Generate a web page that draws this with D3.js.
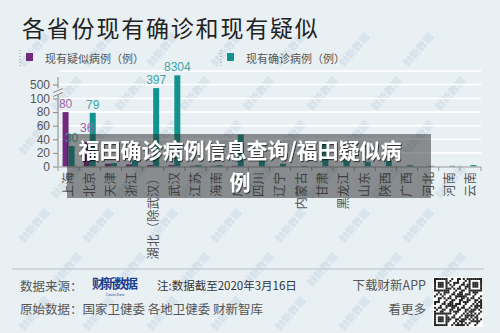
<!DOCTYPE html>
<html><head><meta charset="utf-8">
<script src="https://cdn.jsdelivr.net/npm/d3@7"></script>
<style>
html,body{margin:0;padding:0;background:#e9f0f4;}
svg{display:block;font-family:"Noto Sans CJK SC","Noto Sans",sans-serif;}
</style></head><body>
<svg id="chart" width="500" height="333"></svg>
<script>
// 数据 (截至2020年3月16日)
var provinces = ["上海","北京","天津","浙江","湖北（除武汉）","武汉","江苏","海南","广东","四川",
	"辽宁","内蒙古","甘肃","黑龙江","山东","陕西","广西","河北","河南","云南"];
var suspected = [80,36,4,3,2,2,1,1,1,0,0,0,0,0,0,0,0,0,0,0];
var confirmed = [30,79,5,9,397,8304,2,2,47,10,4,1,38,11,7,9,2,1,1,2];
var yTicks = [0,20,40,60,80,100,500];
var labelSuspected = ["上海","北京"];
var labelConfirmed = ["上海","北京","湖北（除武汉）","武汉"];

var PURPLE = "#72287f", TEAL = "#13938f";
var NUMFONT = "'Liberation Sans', Arial, sans-serif";
var svg = d3.select("#chart");

// sombra del texto del banner
svg.append("defs").append("filter").attr("id", "shadow")
	.append("feDropShadow").attr("dx", 1).attr("dy", 1.2).attr("stdDeviation", 0.6)
	.attr("flood-color", "#000").attr("flood-opacity", 0.6);

// marca de agua en rejilla
var wm = svg.append("g");
for (var j = 0; j < 8; j++) {
	for (var i = 0; i < 9; i++) {
		var wx = 5 + i * 64 + (j % 2) * 32, wy = 8 + j * 44;
		if (wx < 16 || wx > 484 || wy < 16 || wy > 318) continue;
		wm.append("text").attr("transform", "translate(" + wx + "," + wy + ") rotate(-50)")
			.attr("font-size", 10).attr("font-weight", "bold").attr("fill", "#d3e0e9")
			.attr("text-anchor", "middle").text("财新数据");
	}
}

// titulo
svg.append("text").attr("x", 22).attr("y", 37).attr("font-size", 23)
	.attr("letter-spacing", 1.8).attr("fill", "#222").text("各省份现有确诊和现有疑似");

// leyenda
var legend = [{x: 20, c: PURPLE, t: "现有疑似病例（例）"}, {x: 221, c: TEAL, t: "现有确诊病例（例）"}];
legend.forEach(function(l) {
	svg.append("line").attr("x1", l.x).attr("x2", l.x).attr("y1", 50).attr("y2", 67)
		.attr("stroke", "#999").attr("stroke-dasharray", "1,2");
	svg.append("rect").attr("x", l.x + 6).attr("y", 53).attr("width", 7).attr("height", 8).attr("fill", l.c);
	svg.append("text").attr("x", l.x + 25).attr("y", 63).attr("font-size", 11)
		.attr("fill", "#555").text(l.t);
});

// escalas: eje cortado entre 100 y 500
var x = d3.scaleBand().domain(provinces).range([58, 481]);
var y = d3.scaleLinear().domain([0, 100, 500, 12000]).range([166.5, 98.5, 84.5, 71]);
var bw = 6;

// rejilla
svg.append("g").selectAll("line").data(yTicks.slice(1).concat([12000])).enter().append("line")
	.attr("x1", 60).attr("x2", 481).attr("y1", function(d) { return y(d); })
	.attr("y2", function(d) { return y(d); }).attr("stroke", "#fff").attr("stroke-width", 1.6);

// eje y
var yAxis = svg.append("g").attr("transform", "translate(58,0)")
	.call(d3.axisLeft(y).tickValues(yTicks).tickSize(5).tickPadding(3));
yAxis.select(".domain").remove();
yAxis.selectAll("line").attr("stroke", "#888");
yAxis.selectAll("text").attr("font-size", 12).attr("fill", "#555").attr("font-family", NUMFONT);
svg.append("path").attr("d", "M58,166.5V94.5M58,88.5V77").attr("stroke", "#888").attr("fill", "none");
svg.append("path").attr("d", "M53,92.5L63,88.5M53,96.5L63,92.5").attr("stroke", "#888").attr("fill", "none");

// barras
var bars = svg.append("g");
bars.selectAll(".sus").data(provinces).enter().append("rect").attr("class", "sus")
	.attr("x", function(d) { return x(d) + x.bandwidth() / 2 - bw; })
	.attr("y", function(d, i) { return y(suspected[i]); })
	.attr("width", bw).attr("height", function(d, i) { return y(0) - y(suspected[i]); })
	.attr("fill", PURPLE);
bars.selectAll(".conf").data(provinces).enter().append("rect").attr("class", "conf")
	.attr("x", function(d) { return x(d) + x.bandwidth() / 2; })
	.attr("y", function(d, i) { return y(confirmed[i]); })
	.attr("width", bw).attr("height", function(d, i) { return y(0) - y(confirmed[i]); })
	.attr("fill", TEAL);

// etiquetas de valores ("36" va mas arriba para no pisar "30")
labelSuspected.forEach(function(p) {
	var v = suspected[provinces.indexOf(p)];
	var lift = p === "北京" ? 10 : 4;
	svg.append("text").attr("x", x(p) + x.bandwidth() / 2 - bw / 2).attr("y", y(v) - lift)
		.attr("text-anchor", "middle").attr("font-size", 12).attr("font-family", NUMFONT)
		.attr("fill", "#9a67a8").text(v);
});
labelConfirmed.forEach(function(p) {
	var v = confirmed[provinces.indexOf(p)];
	svg.append("text").attr("x", x(p) + x.bandwidth() / 2 + bw / 2).attr("y", y(v) - 4)
		.attr("text-anchor", "middle").attr("font-size", 12).attr("font-family", NUMFONT)
		.attr("fill", "#3ca7a4").text(v);
});

// eje x
svg.append("line").attr("x1", 58).attr("x2", 481).attr("y1", 167).attr("y2", 167)
	.attr("stroke", "#999");
svg.append("g").selectAll("line").data(d3.range(provinces.length + 1)).enter().append("line")
	.attr("x1", function(k) { return 58 + k * x.step(); }).attr("x2", function(k) { return 58 + k * x.step(); })
	.attr("y1", 167).attr("y2", 171).attr("stroke", "#999");
svg.append("g").selectAll("text").data(provinces).enter().append("text")
	.attr("transform", function(d) { return "translate(" + (x(d) + x.bandwidth() / 2) + ",172) rotate(-90)"; })
	.attr("text-anchor", "end").attr("dy", "0.35em").attr("font-size", 12.5).attr("fill", "#555")
	.text(function(d) { return d; });

// banner superpuesto
svg.append("rect").attr("x", 67).attr("y", 134).attr("width", 364).attr("height", 64)
	.attr("fill", "rgba(40,40,40,0.5)");
var banner = svg.append("text").attr("text-anchor", "middle").attr("font-size", 21)
	.attr("font-weight", "bold").attr("fill", "#fff").attr("filter", "url(#shadow)");
banner.append("tspan").attr("x", 240).attr("y", 158).text("福田确诊病例信息查询/福田疑似病");
banner.append("tspan").attr("x", 240).attr("y", 190).text("例");

// pie
svg.append("line").attr("x1", 12).attr("x2", 484).attr("y1", 269).attr("y2", 269)
	.attr("stroke", "#b7bfc4");
svg.append("text").attr("x", 20).attr("y", 291).attr("font-size", 12.5).attr("fill", "#555").text("数据来源：");
svg.append("text").attr("x", 92).attr("y", 288).attr("font-size", 13).attr("font-weight", "bold")
	.attr("fill", "#1d3f92").attr("textLength", 46).text("财新数据");
svg.append("text").attr("x", 115).attr("y", 296).attr("font-size", 3.5).attr("text-anchor", "middle")
	.attr("fill", "#1d3f92").text("Caixin Data");
svg.append("text").attr("x", 157).attr("y", 290).attr("font-size", 11.5).attr("fill", "#333")
	.text("注:数据截至2020年3月16日");
svg.append("text").attr("x", 20).attr("y", 314).attr("font-size", 12.5).attr("fill", "#555")
	.text("原始数据：国家卫健委 各地卫健委 财新智库");
svg.append("text").attr("x", 426).attr("y", 290).attr("text-anchor", "end").attr("font-size", 12.5)
	.attr("fill", "#555").text("下载财新APP");
svg.append("text").attr("x", 426).attr("y", 314).attr("text-anchor", "end").attr("font-size", 12.5)
	.attr("fill", "#555").text("看更多");

// codigo QR (decorativo)
var qr = svg.append("g").attr("transform", "translate(433,277)");
qr.append("rect").attr("width", 50).attr("height", 50).attr("fill", "#fff");
var n = 25, m = 1.92;
function finder(i, j) {
	var fi = i < 7 && j < 7 ? [i, j] : (i >= n - 7 && j < 7 ? [i - n + 7, j] : (i < 7 && j >= n - 7 ? [i, j - n + 7] : null));
	if (!fi) return null;
	var a = fi[0], b = fi[1];
	return (a === 0 || a === 6 || b === 0 || b === 6 || (a >= 2 && a <= 4 && b >= 2 && b <= 4));
}
for (var qi = 0; qi < n; qi++) {
	for (var qj = 0; qj < n; qj++) {
		var f = finder(qi, qj), on;
		if (f !== null) on = f;
		else on = ((qi * 7 + qj * 13 + (qi * qj) % 5) % 3 === 0) || ((qi ^ qj) % 4 === 1);
		if (on) qr.append("rect").attr("x", 1 + qi * m).attr("y", 1 + qj * m)
			.attr("width", m + 0.1).attr("height", m + 0.1).attr("fill", "#222");
	}
}
</script>
</body></html>
